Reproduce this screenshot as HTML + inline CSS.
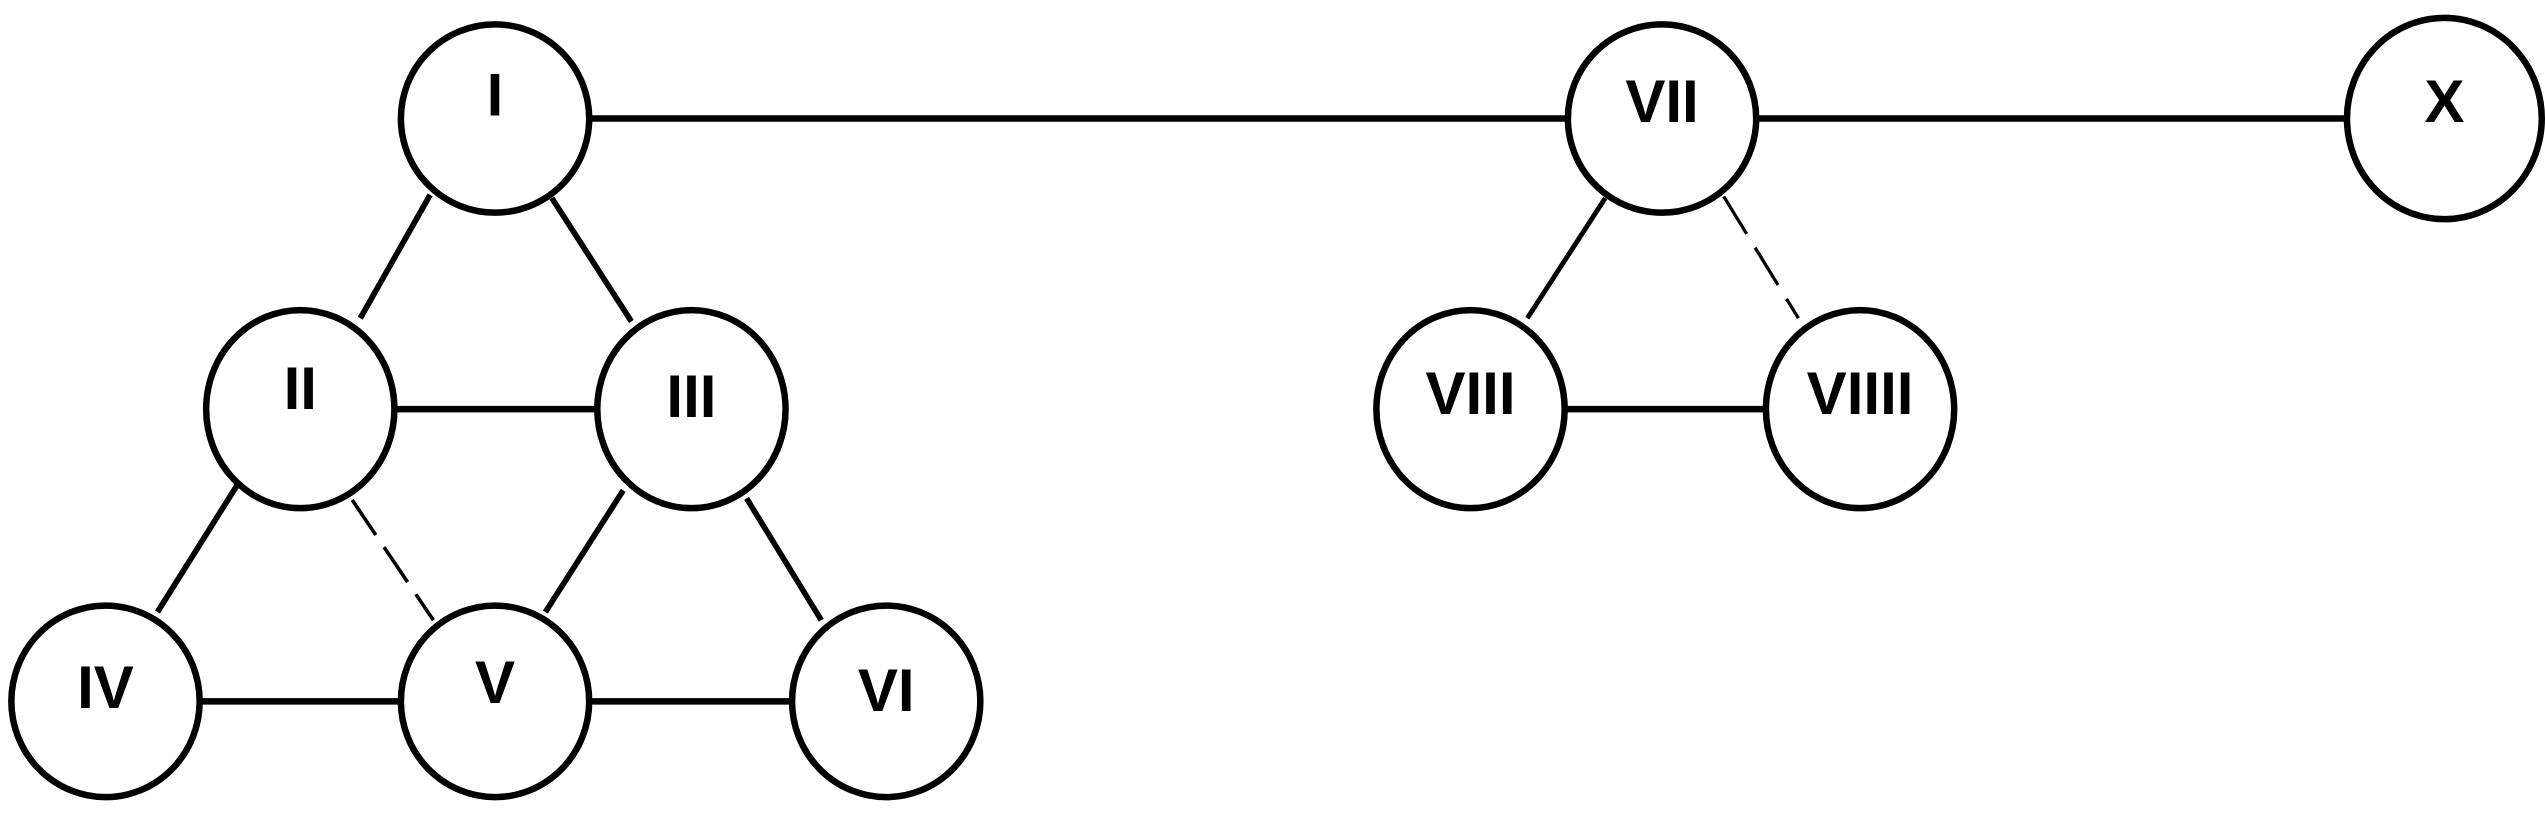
<!DOCTYPE html>
<html><head><meta charset="utf-8"><style>
html,body{margin:0;padding:0;background:#fff;}
svg{display:block;}
text{font-family:"Liberation Sans",sans-serif;font-weight:bold;font-size:37px;fill:#000;text-anchor:middle;}
</style></head><body>
<svg width="2545" height="815" viewBox="0 0 1568 502" preserveAspectRatio="none" xmlns="http://www.w3.org/2000/svg">
<g stroke="#000" stroke-width="4" fill="none">
<line x1="363" y1="73" x2="966" y2="73"/>
<line x1="1082" y1="73" x2="1446" y2="73"/>
<line x1="265" y1="120" x2="222" y2="196" stroke-width="3.5"/>
<line x1="340" y1="122" x2="389" y2="198" stroke-width="3.5"/>
<line x1="243" y1="252" x2="367" y2="252"/>
<line x1="146" y1="299" x2="97" y2="377" stroke-width="3.5"/>
<line x1="217" y1="308" x2="267" y2="382" stroke-width="2.2" stroke-dasharray="26,9"/>
<line x1="384" y1="302" x2="336" y2="377" stroke-width="3.5"/>
<line x1="460" y1="307" x2="506" y2="382" stroke-width="3.5"/>
<line x1="123" y1="432" x2="247" y2="432"/>
<line x1="363" y1="432" x2="488" y2="432"/>
<line x1="989" y1="122" x2="941" y2="196" stroke-width="3"/>
<line x1="1062" y1="121" x2="1108" y2="196" stroke-width="2" stroke-dasharray="27,10"/>
<line x1="963" y1="252" x2="1088" y2="252"/>
<ellipse cx="305" cy="73" rx="58" ry="58"/>
<ellipse cx="185" cy="252" rx="58" ry="61"/>
<ellipse cx="426" cy="252" rx="58" ry="61"/>
<ellipse cx="65" cy="432" rx="58" ry="59"/>
<ellipse cx="305" cy="432" rx="58" ry="59"/>
<ellipse cx="546" cy="432" rx="58" ry="59"/>
<ellipse cx="1024" cy="73" rx="58" ry="58"/>
<ellipse cx="1506" cy="73" rx="60" ry="62"/>
<ellipse cx="906" cy="252" rx="58" ry="61"/>
<ellipse cx="1146" cy="252" rx="58" ry="61"/>
</g>
<text x="305" y="71">I</text>
<text x="185" y="252">II</text>
<text x="426" y="257">III</text>
<text x="65" y="436">IV</text>
<text x="305" y="433">V</text>
<text x="546" y="438">VI</text>
<text x="1024" y="75">VII</text>
<text x="1506" y="75">X</text>
<text x="906" y="255">VIII</text>
<text x="1146" y="255">VIIII</text>
</svg>
</body></html>
